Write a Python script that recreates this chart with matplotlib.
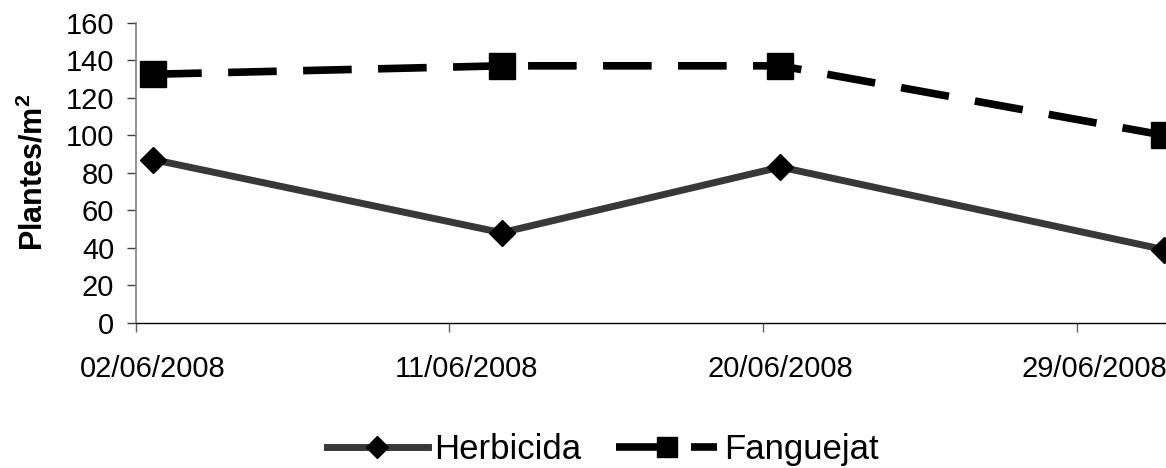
import matplotlib
matplotlib.use("Agg")
import matplotlib.pyplot as plt

# dies des del 02/06/2008
dies = [0, 10, 18, 29]
herbicida = [87, 48, 83, 39]
fanguejat = [132.5, 137, 137, 100]
tick_dies = [0, 9, 18, 27]
tick_labels = ["02/06/2008", "11/06/2008", "20/06/2008", "29/06/2008"]

plt.rcParams['font.family'] = ['Liberation Sans', 'DejaVu Sans']
plt.rcParams['mathtext.fontset'] = 'custom'
plt.rcParams['mathtext.bf'] = 'Liberation Sans:bold'
plt.rcParams['mathtext.rm'] = 'Liberation Sans'
plt.rcParams['lines.scale_dashes'] = False

fig = plt.figure(figsize=(11.66, 4.68), dpi=100)
ax = fig.add_axes([0.1164, 0.3105, 1.013 - 0.1164, 0.9515 - 0.3105])

# els punts van al centre del dia (com a Excel)
x = [d + 0.5 for d in dies]
ax.plot(x, herbicida, color='#383838', lw=5, marker='D', ms=13.5,
        mfc='black', mec='black', mew=1, label='Herbicida', clip_on=False)
ax.plot(x, fanguejat, color='black', lw=5.5, marker='s', ms=18.5,
        mfc='black', mec='black', mew=1, dashes=(35, 19), label='Fanguejat',
        clip_on=False)

ax.set_xlim(0, 30)
ax.set_ylim(0, 160)
ax.set_yticks(range(0, 161, 20))

# marques als límits dels dies, etiquetes al centre
ax.set_xticks(tick_dies, minor=True)
ax.set_xticks([d + 0.5 for d in tick_dies])
ax.set_xticklabels(tick_labels)
ax.tick_params(axis='x', which='major', length=0, pad=23, labelsize=21)
ax.tick_params(axis='x', which='minor', length=6.5, width=1, color='#606060', direction='out')
ax.tick_params(axis='y', length=6.5, width=1, color='#404040', pad=9, labelsize=21)

ax.spines['top'].set_visible(False)
ax.spines['right'].set_visible(False)
ax.spines['left'].set_color('#808080')
ax.spines['left'].set_linewidth(1.2)
ax.spines['bottom'].set_color('black')
ax.spines['bottom'].set_linewidth(1)

ax.set_ylabel(r'Plantes/m$^{\mathbf{2}}$', fontsize=22, fontweight='bold', labelpad=12)

fig.legend(loc='center', bbox_to_anchor=(0.517, 0.04), ncol=2, frameon=False,
           fontsize=25, handlelength=2.9, handletextpad=0.2, columnspacing=1.0,
           markerscale=0.8)

fig.savefig('out.png', dpi=100)
